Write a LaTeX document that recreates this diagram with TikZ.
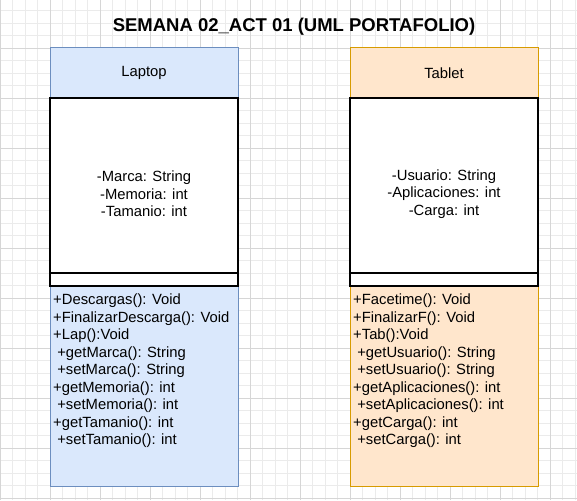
\documentclass[tikz,border=0pt]{standalone}
\usepackage{fontspec}
\setmainfont{Liberation Sans}
\usetikzlibrary{positioning}
\definecolor{lapfill}{HTML}{DAE8FC}
\definecolor{lapline}{HTML}{6C8EBF}
\definecolor{tabfill}{HTML}{FFE6CC}
\definecolor{tabline}{HTML}{D79B00}
\definecolor{gridminor}{HTML}{EBEBEB}
\definecolor{gridmajor}{HTML}{D6D6D6}
\tikzstyle{GridMinor} = [gridminor, line width=0.8pt]
\tikzstyle{GridMajor} = [gridmajor, line width=0.8pt]
\tikzstyle{Title} = [font=\bfseries\fontsize{18.5}{22}\selectfont]
\tikzstyle{Header} = [
outer sep=0pt,
minimum width=188pt, minimum height=50pt,
line width=1pt,
font=\fontsize{14.8}{17.5}\selectfont]
\tikzstyle{Fields} = [draw=black, fill=white, outer sep=0pt,
minimum width=188pt, minimum height=175pt, line width=1.3pt]
\tikzstyle{Gap} = [draw=black, fill=white, outer sep=0pt,
minimum width=188pt, minimum height=13pt, line width=1.3pt]
\tikzstyle{Methods} = [outer sep=0pt,
minimum width=188pt, minimum height=200pt, line width=1pt]
\tikzstyle{FieldText} = [align=center, inner sep=0pt,
font=\fontsize{14.8}{17.5}\selectfont]
\tikzstyle{MethodText} = [align=left, anchor=north west,
inner xsep=3pt, inner ysep=8pt,
font=\fontsize{14.8}{17.5}\selectfont]

\begin{document}
\begin{tikzpicture}[x=1pt, y=-1pt]
    \useasboundingbox (0,0) rectangle (577,500);
    \fill[white] (0,0) rectangle (577,500);
    \foreach \k in {0,...,46} \draw[GridMinor] ({12.5*\k},0) -- ({12.5*\k},500);
    \foreach \k in {0,...,39} \draw[GridMinor] (0,{10.8+12.5*\k}) -- (577,{10.8+12.5*\k});
    \foreach \k in {0,...,11} \draw[GridMajor] ({50*\k},0) -- ({50*\k},500);
    \foreach \k in {0,...,9} \draw[GridMajor] (0,{48.3+50*\k}) -- (577,{48.3+50*\k});

    \node[Title] (title) at (294,27) {SEMANA 02\_ACT 01 (UML PORTAFOLIO)};

    \node[Header, fill=lapfill, draw=lapline] (laptop) at (144,73) {Laptop};
    \node[Fields, below=0pt of laptop] (laptopfields) {};
    \node[Methods, fill=lapfill, draw=lapline, below=13pt of laptopfields] (laptopmethods) {};
    \node[Gap, below=0pt of laptopfields] (laptopgap) {};
    \node[FieldText] (laptopattr) at ([yshift=-8.5pt]laptopfields.center)
        {-Marca: String\\-Memoria: int\\-Tamanio: int};
    \node[MethodText] (laptopops) at (laptopmethods.north west)
        {+Descargas(): Void\\+FinalizarDescarga(): Void\\+Lap():Void\\
        \ +getMarca(): String\\\ +setMarca(): String\\+getMemoria(): int\\
        \ +setMemoria(): int\\+getTamanio(): int\\\ +setTamanio(): int};

    \node[Header, fill=tabfill, draw=tabline, right=112pt of laptop] (tablet) {Tablet};
    \node[Fields, below=0pt of tablet] (tabletfields) {};
    \node[Methods, fill=tabfill, draw=tabline, below=13pt of tabletfields] (tabletmethods) {};
    \node[Gap, below=0pt of tabletfields] (tabletgap) {};
    \node[FieldText] (tabletattr) at ([yshift=-8.5pt]tabletfields.center)
        {-Usuario: String\\-Aplicaciones: int\\-Carga: int};
    \node[MethodText] (tabletops) at (tabletmethods.north west)
        {+Facetime(): Void\\+FinalizarF(): Void\\+Tab():Void\\
        \ +getUsuario(): String\\\ +setUsuario(): String\\+getAplicaciones(): int\\
        \ +setAplicaciones(): int\\+getCarga(): int\\\ +setCarga(): int};
\end{tikzpicture}
\end{document}
